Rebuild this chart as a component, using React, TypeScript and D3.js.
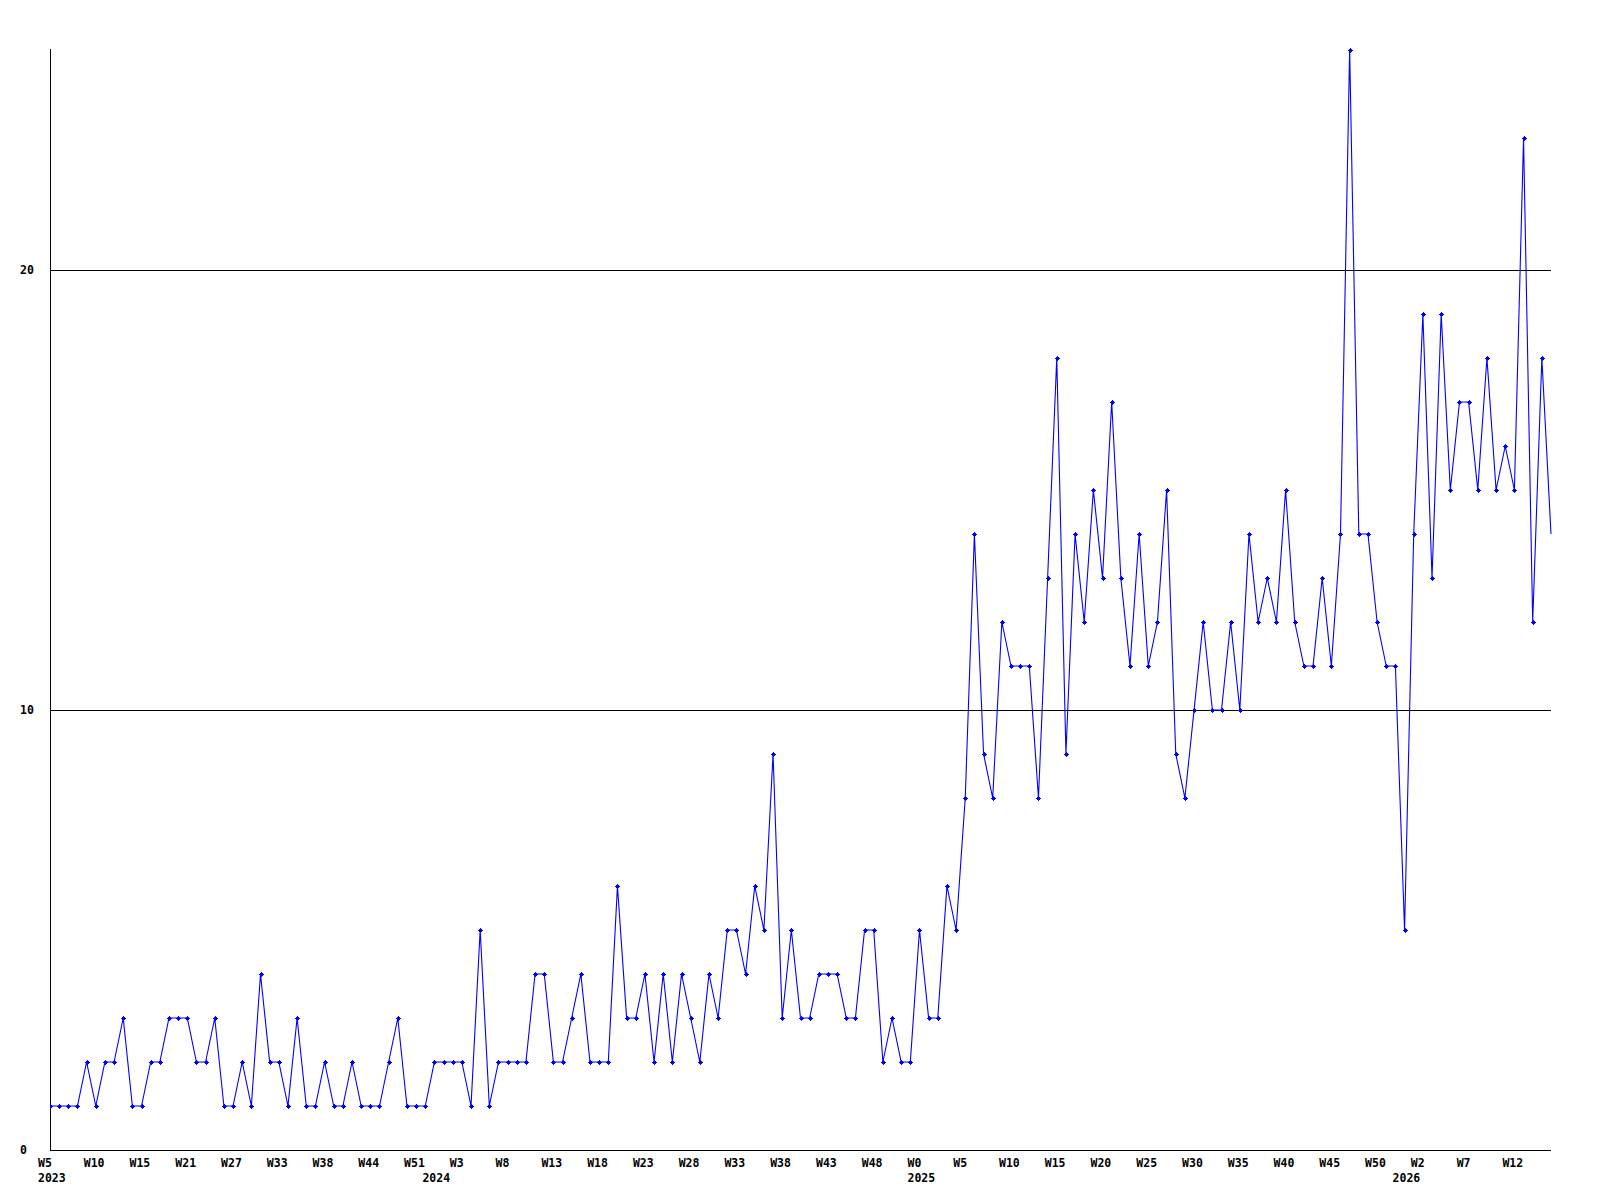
import React from "react";
import * as d3 from "d3";

// weekly counts, one value per plotted week
const values: number[] = [
  1, 1, 1, 1, 2, 1, 2, 2, 3, 1,
  1, 2, 2, 3, 3, 3, 2, 2, 3, 1,
  1, 2, 1, 4, 2, 2, 1, 3, 1, 1,
  2, 1, 1, 2, 1, 1, 1, 2, 3, 1,
  1, 1, 2, 2, 2, 2, 1, 5, 1, 2,
  2, 2, 2, 4, 4, 2, 2, 3, 4, 2,
  2, 2, 6, 3, 3, 4, 2, 4, 2, 4,
  3, 2, 4, 3, 5, 5, 4, 6, 5, 9,
  3, 5, 3, 3, 4, 4, 4, 3, 3, 5,
  5, 2, 3, 2, 2, 5, 3, 3, 6, 5,
  8, 14, 9, 8, 12, 11, 11, 11, 8, 13,
  18, 9, 14, 12, 15, 13, 17, 13, 11, 14,
  11, 12, 15, 9, 8, 10, 12, 10, 10, 12,
  10, 14, 12, 13, 12, 15, 12, 11, 11, 13,
  11, 14, 25, 14, 14, 12, 11, 11, 5, 14,
  19, 13, 19, 15, 17, 17, 15, 18, 15, 16,
  15, 23, 12, 18, 14,
];

// x tick labels, one every 5 points
const weekLabels: string[] = [
  "W5", "W10", "W15", "W21", "W27", "W33", "W38", "W44", "W51", "W3", "W8",
  "W13", "W18", "W23", "W28", "W33", "W38", "W43", "W48", "W0", "W5", "W10",
  "W15", "W20", "W25", "W30", "W35", "W40", "W45", "W50", "W2", "W7", "W12",
];
const labelStep = 5;

// year markers: point index where each year begins
const yearLabels: string[] = ["2023", "2024", "2025", "2026"];
const yearIndices: number[] = [0, 42, 95, 148];

const yTicks: number[] = [0, 10, 20];
const yMax = 25;

const W = 1600;
const H = 1200;
const left = 50;
const right = 1551;
const top = 50;
const bottom = 1150;
const FONT = "'DejaVu Sans Mono', monospace";

export default function App() {
  const x = d3.scaleLinear().domain([0, values.length - 1]).range([left, right]);
  const y = d3.scaleLinear().domain([0, yMax]).range([bottom, top]);
  const line = d3
    .line<number>()
    .x((_, i) => x(i))
    .y((d) => y(d));

  const marker = "M-2.5,-0.5h5v1h-5z M-0.5,-2.5h1v5h-1z M-1.5,-1.5h3v3h-3z";

  return (
    <svg
      width={W}
      height={H}
      style={{ position: "absolute", left: 0, top: 0, background: "#fff" }}
    >
      <rect x={0} y={0} width={W} height={H} fill="#fff" />
      {/* grid lines */}
      {yTicks
        .filter((t) => t > 0)
        .map((t) => (
          <line
            key={"g" + t}
            x1={left}
            x2={right}
            y1={Math.round(y(t)) + 0.5}
            y2={Math.round(y(t)) + 0.5}
            stroke="#000"
            strokeWidth={1}
            shapeRendering="crispEdges"
          />
        ))}
      {/* axes */}
      <line
        x1={left + 0.5}
        x2={left + 0.5}
        y1={top - 1}
        y2={bottom + 0.5}
        stroke="#000"
        shapeRendering="crispEdges"
      />
      <line
        x1={left}
        x2={right}
        y1={bottom + 0.5}
        y2={bottom + 0.5}
        stroke="#000"
        shapeRendering="crispEdges"
      />
      {/* y labels */}
      {yTicks.map((t) => (
        <text
          key={"y" + t}
          x={20}
          y={y(t) + 4}
          fontFamily={FONT}
          fontWeight="bold"
          fontSize={11.5}
          fill="#000"
        >
          {t}
        </text>
      ))}
      {/* x labels */}
      {weekLabels.map((lab, k) => (
        <text
          key={"w" + k}
          x={x(k * labelStep) - 12}
          y={1166.5}
          fontFamily={FONT}
          fontWeight="bold"
          fontSize={11.5}
          fill="#000"
        >
          {lab}
        </text>
      ))}
      {yearLabels.map((lab, k) => (
        <text
          key={"yr" + k}
          x={x(yearIndices[k]) - 12}
          y={1181.5}
          fontFamily={FONT}
          fontWeight="bold"
          fontSize={11.5}
          fill="#000"
        >
          {lab}
        </text>
      ))}
      <defs>
        <clipPath id="plotclip">
          <rect x={left} y={0} width={right - left + 1} height={bottom + 1} />
        </clipPath>
      </defs>
      <g clipPath="url(#plotclip)">
        <path
          d={line(values) || ""}
          fill="none"
          stroke="#0000ff"
          strokeWidth={1.1}
        />
        {values.map((v, i) =>
          i === values.length - 1 ? null : (
            <path
              key={"m" + i}
              d={marker}
              transform={`translate(${Math.round(x(i))},${Math.round(y(v))})`}
              fill="#0000ff"
              shapeRendering="crispEdges"
            />
          )
        )}
      </g>
    </svg>
  );
}
